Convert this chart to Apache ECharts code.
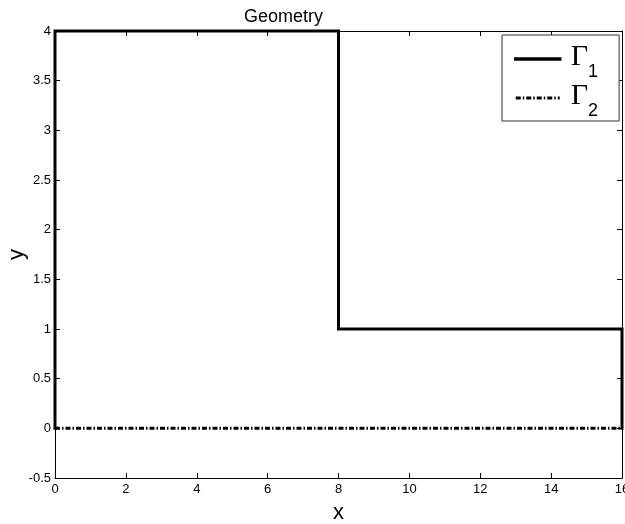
<!DOCTYPE html>
<html><head><meta charset="utf-8">
<script src="https://cdn.jsdelivr.net/npm/echarts@6/dist/echarts.min.js"></script>
<style>html,body{margin:0;padding:0;background:#fff}#c{width:625px;height:524px}</style>
</head><body><div id="c"></div>
<script>
const seriesNames = ['Γ1', 'Γ2'];
const gamma1X = [0, 0, 8, 8, 16, 16];
const gamma1Y = [0, 4, 4, 1, 1, 0];
const gamma2X = [0, 16];
const gamma2Y = [0, 0];
const xTicks = [0, 2, 4, 6, 8, 10, 12, 14, 16];
const yTicks = [-0.5, 0, 0.5, 1, 1.5, 2, 2.5, 3, 3.5, 4];

const chart = echarts.init(document.getElementById('c'), null, {renderer: 'canvas'});
const font = 'Liberation Sans, Arial, sans-serif';
const axisCommon = {
  type: 'value',
  axisLine: {show: true, onZero: false, lineStyle: {color: '#000', width: 1}},
  axisTick: {show: true, inside: true, length: 5, lineStyle: {color: '#000'}},
  splitLine: {show: false},
  nameMoveOverlap: false,
  nameTextStyle: {color: '#000', fontFamily: font}
};
chart.setOption({
  animation: false,
  backgroundColor: '#fff',
  title: {
    text: 'Geometry', left: 239, top: 3,
    textStyle: {fontFamily: font, fontSize: 18, fontWeight: 'normal', color: '#000'}
  },
  grid: {left: 55, right: 3, top: 31, bottom: 46, containLabel: false, outerBoundsMode: 'none'},
  legend: {
    orient: 'vertical', left: 502, top: 35,
    backgroundColor: '#fff', borderColor: '#333', borderWidth: 1,
    padding: [2, 21, 1, 12], itemGap: -5, itemWidth: 44, itemHeight: 14,
    itemStyle: {opacity: 0},
    data: [
      {name: seriesNames[0], lineStyle: {width: 3.5}},
      {name: seriesNames[1], lineStyle: {width: 3}}
    ],
    formatter: function (n) { return '{g|' + n.charAt(0) + '}{s|' + n.slice(1) + '}'; },
    textStyle: {
      color: '#000',
      rich: {
        g: {fontFamily: 'Liberation Serif, Times New Roman, serif', fontSize: 30, lineHeight: 34, verticalAlign: 'top', color: '#000', padding: [5, 0, 0, 6]},
        s: {fontFamily: font, fontSize: 18, lineHeight: 44, verticalAlign: 'bottom', color: '#000'}
      }
    }
  },
  xAxis: [
    Object.assign({}, axisCommon, {
      min: 0, max: 16, interval: 2, position: 'bottom',
      name: 'x', nameLocation: 'middle', nameGap: 24,
      nameTextStyle: {color: '#000', fontFamily: font, fontSize: 22},
      axisLabel: {color: '#000', fontFamily: font, fontSize: 13, margin: 5,
        formatter: function (v) { return xTicks.indexOf(v) >= 0 ? String(v) : ''; }}
    }),
    Object.assign({}, axisCommon, {
      min: 0, max: 16, interval: 2, position: 'top', axisLabel: {show: false}
    })
  ],
  yAxis: [
    Object.assign({}, axisCommon, {
      min: -0.5, max: 4, interval: 0.5, position: 'left',
      name: 'y', nameLocation: 'middle', nameGap: 27, nameRotate: 90,
      nameTextStyle: {color: '#000', fontFamily: font, fontSize: 22},
      axisLabel: {color: '#000', fontFamily: font, fontSize: 13, margin: 4,
        formatter: function (v) { return yTicks.indexOf(v) >= 0 ? String(v) : ''; }}
    }),
    Object.assign({}, axisCommon, {
      min: -0.5, max: 4, interval: 0.5, position: 'right', axisLabel: {show: false}
    })
  ],
  series: [
    {
      name: seriesNames[0], type: 'line', symbol: 'none', clip: false,
      xAxisIndex: 0, yAxisIndex: 0,
      data: gamma1X.map((x, i) => [x, gamma1Y[i]]),
      lineStyle: {color: '#000', width: 3, cap: 'square', join: 'miter'},
      itemStyle: {color: '#000'}
    },
    {
      name: seriesNames[1], type: 'line', symbol: 'none', clip: false,
      xAxisIndex: 0, yAxisIndex: 0,
      data: gamma2X.map((x, i) => [x, gamma2Y[i]]),
      lineStyle: {color: '#000', width: 3, type: [5, 2, 1.5, 2], cap: 'butt'},
      itemStyle: {color: '#000'}
    }
  ]
});
</script></body></html>
